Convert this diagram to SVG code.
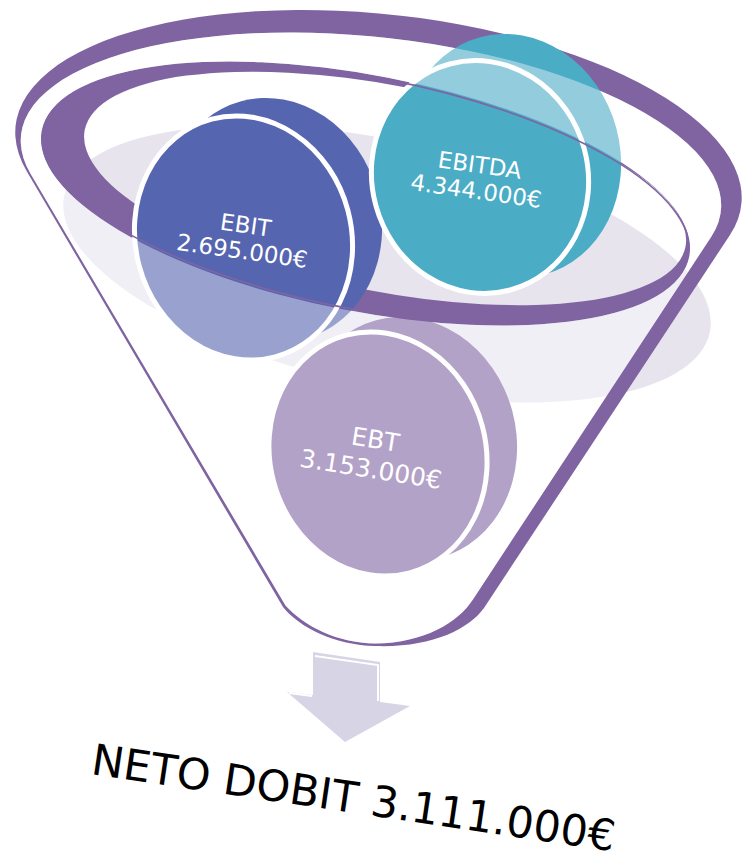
<svg xmlns="http://www.w3.org/2000/svg" width="742" height="861" viewBox="0 0 742 861">
<style>
.purple{fill:#8064a2}
.lbl{font-family:'DejaVu Sans',Verdana,sans-serif;fill:#ffffff;text-anchor:middle}
.face{stroke:#ffffff;stroke-width:5}
</style>
<rect width="742" height="861" fill="#ffffff"/>
<g id="shadow">
<ellipse cx="387" cy="264" rx="330" ry="123" transform="rotate(12 387 264)" fill="#e7e4ee"/>
</g>
<g id="funnel-rim">
<path class="purple" fill-rule="evenodd" d="M27,171.8 A365,151 6.2 1 1 729.8,235.2 L484,608 C468,630 430,648 375,646 C335,645 300,628 283,607 Z M30.7,174 A352,136 6.2 1 1 711.4,236.5 L472.6,600 C458,622 425,643 375,643.5 C337,643 304,626 285.5,605.5 Z"/>
</g>
<g id="inner-ring">
<path class="purple" fill-rule="evenodd" d="M42.6,130.7 A329,116 11 1 1 688.4,256.3 A329,116 11 1 1 42.6,130.7 Z M84.7,130 A306,103 11 1 1 685.5,246.8 A306,103 11 1 1 84.7,130 Z"/>
</g>
<g id="ebt">
<ellipse cx="408" cy="439" rx="108" ry="123" transform="rotate(-15 408 439)" fill="#8064a2"/>
<ellipse class="face" cx="378" cy="454" rx="108" ry="123" transform="rotate(-15 378 454)" fill="#8064a2"/>
</g>
<g id="ebit">
<ellipse cx="273" cy="220" rx="108" ry="123" transform="rotate(-15 273 220)" fill="#5665b0"/>
<ellipse class="face" cx="243.5" cy="238" rx="108" ry="123" transform="rotate(-15 243.5 238)" fill="#5665b0"/>
</g>
<g id="ebitda">
<ellipse cx="512" cy="156" rx="108" ry="123" transform="rotate(-15 512 156)" fill="#4bacc6"/>
<ellipse class="face" cx="480" cy="177" rx="108" ry="117" transform="rotate(-15 480 177)" fill="#4bacc6"/>
</g>
<g id="glass">
<path fill="#ffffff" fill-opacity="0.4" fill-rule="evenodd" d="M30.7,174 A352,136 6.2 1 1 711.4,236.5 L472.6,600 C458,622 425,643 375,643.5 C337,643 304,626 285.5,605.5 Z M42.6,130.7 A329,116 11 1 1 688.4,256.3 A329,116 11 1 1 42.6,130.7 Z"/>
<ellipse cx="365.5" cy="193.5" rx="329" ry="116" transform="rotate(11 365.5 193.5)" fill="none" stroke="#8064a2" stroke-width="1.6"/>
</g>
<g id="labels">
<g transform="translate(244,238) rotate(8)"><text class="lbl" font-size="23" y="-5">EBIT</text><text class="lbl" font-size="23" y="21">2.695.000€</text></g>
<g transform="translate(478,178) rotate(8)"><text class="lbl" font-size="23" y="-5">EBITDA</text><text class="lbl" font-size="23" y="21">4.344.000€</text></g>
<g transform="translate(373,455) rotate(9)"><text class="lbl" font-size="25" y="-7">EBT</text><text class="lbl" font-size="25" y="23">3.153.000€</text></g>
</g>
<g id="connectors">
<path d="M313,652 L380,662 L380,702 L410,706 L345,742 L287,692 L313,695 Z" fill="#d7d4e5"/>
<path d="M315,656 L378,665 L378,701 M289,693 L312,696" fill="none" stroke="#ffffff" stroke-width="2"/>
</g>
<g id="result">
<text transform="translate(90,774) rotate(8.4)" font-family="'DejaVu Sans',Verdana,sans-serif" font-size="43" fill="#000000">NETO DOBIT 3.111.000€</text>
</g>
</svg>
